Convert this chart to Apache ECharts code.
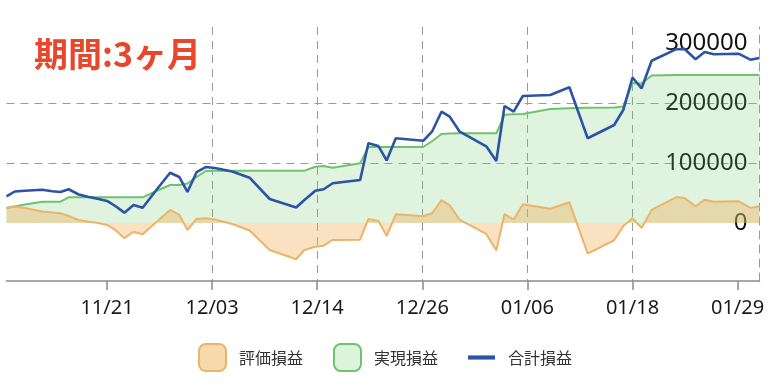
<!DOCTYPE html>
<html><head><meta charset="utf-8">
<script src="https://cdn.jsdelivr.net/npm/echarts@6/dist/echarts.min.js"></script>
<style>html,body{margin:0;padding:0;background:#fff}#c{width:770px;height:392px}</style>
</head><body><div id="c"></div>
<script>
// x positions: days since 11/10
const days = [0,0.9,2.0,3.9,5.0,5.9,6.8,7.9,8.9,10.2,11.0,11.9,12.9,13.9,14.9,16.4,17.9,18.9,19.8,20.8,21.8,22.8,24.7,26.6,28.8,31.7,32.6,33.8,34.7,35.7,38.7,39.6,40.7,41.6,42.6,45.6,46.6,47.6,48.5,49.6,52.5,53.6,54.5,55.5,56.5,59.5,61.6,63.6,66.5,67.5,68.5,69.5,70.6,73.3,74.2,75.4,76.4,77.4,80.1,81.4,82.4];
const total = [44200,52500,53800,55500,52800,51700,56200,47500,43800,39700,36700,28300,17200,30000,25500,55000,83800,76700,51700,84700,93300,91700,85800,75500,40000,25800,38300,53800,56200,66200,71700,132800,128300,104200,141200,137000,153300,185500,177200,152200,127800,103300,195000,185500,211700,213300,226200,141200,163300,188700,242500,224500,270500,289700,290000,273000,285000,281200,282200,272200,275000];
const realized = [25500,27500,30800,35500,35500,35500,42800,42800,42800,42800,42800,42800,42800,42800,42800,53300,63300,63300,65800,76700,86700,87200,87200,87200,87200,87200,87200,93800,95000,92200,99500,126700,126700,126700,126700,126700,136700,148300,149200,149500,149500,149500,180300,181200,181700,190000,191200,192000,192500,194200,233300,232500,245800,246700,246700,246700,246700,246700,246700,246700,246700];
const unrealized = [24500,27500,25000,19200,17500,16200,11700,5000,2500,-500,-3300,-11700,-25500,-14500,-18800,1700,21700,13800,-11700,6700,7800,5800,-1700,-12500,-45000,-60500,-45000,-39500,-37800,-28300,-27800,6700,3300,-21700,14500,11200,16700,38300,29500,5000,-18300,-45800,14700,5800,31300,23800,34500,-51200,-28800,-5000,7800,-8300,21700,43300,41700,28000,38800,35500,36300,25000,27800];
const tickDays = [11,22.5,34,45.5,57,68.5,80];
const tickLabels = ['11/21','12/03','12/14','12/26','01/06','01/18','01/29'];
const yTicks = [0,100000,200000,300000];
const seriesNames = ['評価損益','実現損益','合計損益'];
const titleText = '期間:3ヶ月';

const pairs = arr => days.map((d,i)=>[d, arr[i]]);
const grid = '#9a9a9a';
const chart = echarts.init(document.getElementById('c'), null, {renderer:'canvas'});
chart.setOption({
  animation:false,
  backgroundColor:'#fff',
  title:{text:titleText,left:29,top:32,textStyle:{color:'#e8472b',fontSize:34,fontWeight:'bold',fontFamily:'Noto Sans CJK JP'}},
  grid:{left:6.5,right:10.5,top:27,bottom:111,containLabel:false,outerBoundsMode:'none'},
  legend:{
    bottom:15,left:'center',itemWidth:27,itemHeight:27,itemGap:30,
    textStyle:{fontSize:16,color:'#333',fontFamily:'Noto Sans CJK JP',padding:[0,0,0,8]},
    data:[
      {name:seriesNames[0],icon:'roundRect',itemStyle:{color:'#f8d9ab',borderColor:'#eab56a',borderWidth:2}},
      {name:seriesNames[1],icon:'roundRect',itemStyle:{color:'#dcf3dc',borderColor:'#6cc46c',borderWidth:2}},
      {name:seriesNames[2],icon:'path://M0,0 H26 V4 H0 Z',itemStyle:{color:'#2b54a5',borderWidth:0}}
    ]
  },
  xAxis:{
    type:'value',min:0,max:82.4,
    axisLine:{show:true,onZero:false,lineStyle:{color:'#8a8a8a',width:1.5}},
    axisTick:{show:true,customValues:tickDays,length:9,lineStyle:{color:'#8a8a8a',width:1.5}},
    axisLabel:{customValues:tickDays,margin:17,fontSize:20,color:'#1a1a1a',fontFamily:'Noto Sans',
      formatter:v=>{const i=tickDays.findIndex(t=>Math.abs(t-v)<1e-6);return i>=0?tickLabels[i]:'';}},
    splitLine:{show:true,showMinLine:false,showMaxLine:false,lineStyle:{color:grid,type:[8,6],width:1}}
  },
  yAxis:{
    type:'value',position:'right',min:-96700,max:326700,
    axisLine:{show:true,onZero:false,lineStyle:{color:grid,type:[8,6],width:1}},
    axisTick:{show:false,customValues:yTicks},
    axisLabel:{inside:true,customValues:yTicks,margin:12,fontSize:24,color:'#111',fontFamily:'Noto Sans',
      formatter:v=>String(Math.round(v))},
    splitLine:{show:true,showMinLine:false,showMaxLine:false,lineStyle:{color:grid,type:[8,6],width:1}}
  },
  series:[
    {name:seriesNames[1],type:'line',data:pairs(realized),symbol:'none',z:2,
      lineStyle:{color:'#6cc46c',width:2},itemStyle:{color:'#6cc46c'},areaStyle:{color:'rgba(110,200,110,0.32)'}},
    {name:seriesNames[0],type:'line',data:pairs(unrealized),symbol:'none',z:3,
      lineStyle:{color:'#eab56a',width:2},itemStyle:{color:'#eab56a'},areaStyle:{color:'rgba(240,170,80,0.5)'}},
    {name:seriesNames[2],type:'line',data:pairs(total),symbol:'none',z:4,
      lineStyle:{color:'#2b54a5',width:2.6},itemStyle:{color:'#2b54a5'}}
  ]
});
</script></body></html>
